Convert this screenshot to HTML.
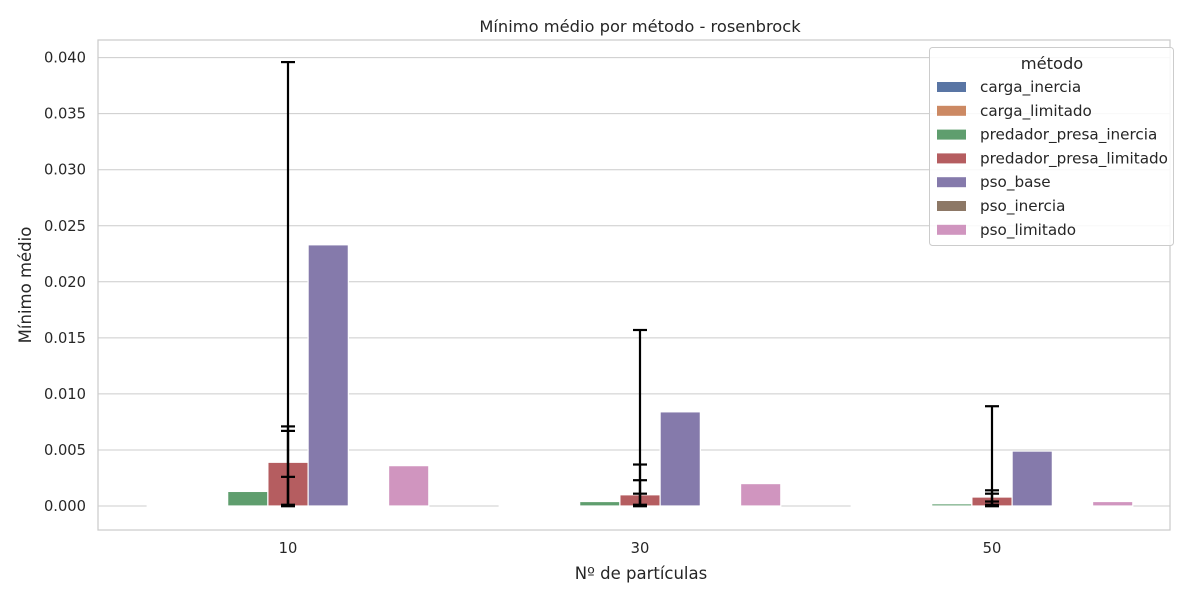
<!DOCTYPE html>
<html><head><meta charset="utf-8"><style>
body{margin:0;background:#fff;font-family:"Liberation Sans","DejaVu Sans",sans-serif}
svg text{font-family:"DejaVu Sans","Liberation Sans",sans-serif;fill:#262626}
</style></head><body>
<svg id="c" width="1200" height="600" xmlns="http://www.w3.org/2000/svg"></svg>
<script>
const groups=["10","30","50"];
const methods=["carga_inercia","carga_limitado","predador_presa_inercia","predador_presa_limitado","pso_base","pso_inercia","pso_limitado"];
const colors=["#5975a4","#cc8963","#5f9e6e","#b55d60","#857aab","#8d7866","#d095bf"];
const v10=[0.00001,0.00001,0.0013,0.0039,0.0233,0.00001,0.0036];
const v30=[0.00001,0.00001,0.0004,0.0010,0.0084,0.00001,0.0020];
const v50=[0.00001,0.00001,0.0002,0.0008,0.0049,0.00001,0.0004];
const errHi10=[0.00002,0.00002,0.0026,0.0067,0.0396,0.00002,0.0071];
const errHi30=[0.00002,0.00002,0.0011,0.0023,0.0157,0.00002,0.0037];
const errHi50=[0.00002,0.00002,0.0004,0.0011,0.0089,0.00002,0.0014];
const errLo=[0,0,0,0.0001,0,0,0.0001];
const yTicks=[0,0.005,0.01,0.015,0.02,0.025,0.03,0.035,0.04];
const vals=[v10,v30,v50], errs=[errHi10,errHi30,errHi50];
const svg=document.getElementById('c'),NS="http://www.w3.org/2000/svg";
function mk(t,a,p){const e=document.createElementNS(NS,t);for(const k in a)e.setAttribute(k,a[k]);(p||svg).appendChild(e);return e;}
const L=98,R=1170,T=40,B=530;
const y=v=>506-v/0.005*56.05;
const gx=i=>288+352*i;
const bw=352*0.8/7;
const bx=(g,m)=>gx(g)-3.5*bw+bw*m;
mk('rect',{x:L,y:T,width:R-L,height:B-T,fill:'#fff',stroke:'#cccccc','stroke-width':1.25});
yTicks.forEach(t=>{
 const l=mk('line',{x1:L,x2:R,y1:y(t),y2:y(t),stroke:'#cccccc','stroke-width':1});
 
 const tx=mk('text',{x:L-12,y:y(t)+5,'text-anchor':'end','font-size':14.7});tx.textContent=t.toFixed(3);
 
});
groups.forEach((g,gi)=>{
 const tx=mk('text',{x:gx(gi),y:553,'text-anchor':'middle','font-size':14.7});tx.textContent=g;
 
 methods.forEach((m,mi)=>{
  const v=vals[gi][mi];
  const r=mk('rect',{x:bx(gi,mi),y:y(v),width:bw,height:y(0)-y(v),fill:colors[mi],stroke:'#fff','stroke-width':1.2});
  
 });
 const ex=bx(gi,3)+bw/2;
 methods.forEach((m,mi)=>{
  const lo=errLo[mi],hi=errs[gi][mi];
  const e=mk('g',{stroke:'#000','stroke-width':2.2});
  
  mk('line',{x1:ex,x2:ex,y1:y(lo),y2:y(hi)},e);
  mk('line',{x1:ex-7,x2:ex+7,y1:y(lo),y2:y(lo)},e);
  mk('line',{x1:ex-7,x2:ex+7,y1:y(hi),y2:y(hi)},e);
 });
});
let t=mk('text',{x:640,y:32,'text-anchor':'middle','font-size':16.3});t.textContent='Mínimo médio por método - rosenbrock';

t=mk('text',{x:641,y:579,'text-anchor':'middle','font-size':16.5});t.textContent='Nº de partículas';

t=mk('text',{x:31,y:285,'text-anchor':'middle','font-size':16.5,transform:'rotate(-90 31 285)'});t.textContent='Mínimo médio';

const lg=mk('g',{});

mk('rect',{x:929.5,y:47.5,width:244,height:198,rx:3,fill:'#fff','fill-opacity':0.85,stroke:'#cccccc'},lg);
t=mk('text',{x:1052,y:69,'text-anchor':'middle','font-size':16.3},lg);t.textContent='método';
methods.forEach((m,i)=>{
 const yy=87+i*23.8;
 const ent=mk('g',{},lg);
 
 mk('rect',{x:937,y:yy-5,width:29,height:10,fill:colors[i]},ent);
 const tt=mk('text',{x:980,y:yy+5,'font-size':15.2},ent);tt.textContent=m;
});
</script>
</body></html>
